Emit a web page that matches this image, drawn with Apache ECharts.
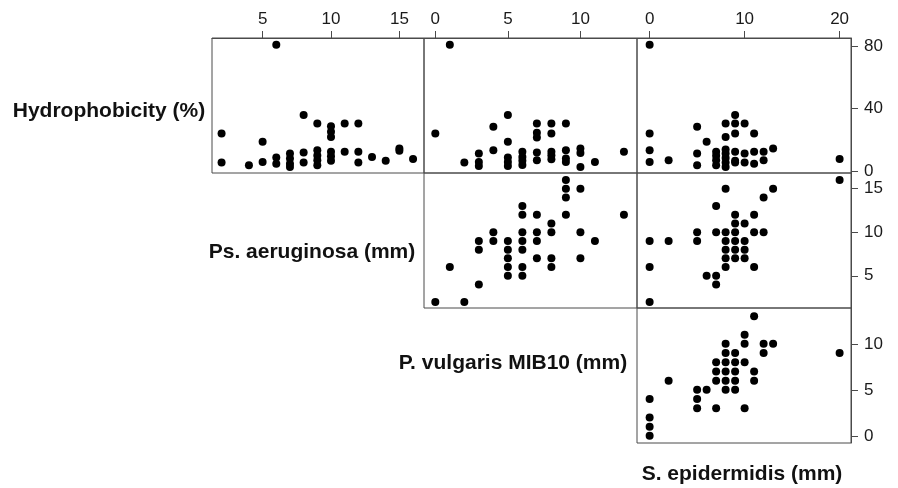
<!DOCTYPE html>
<html>
<head>
<meta charset="utf-8">
<script src="https://cdn.jsdelivr.net/npm/echarts@6/dist/echarts.min.js"></script>
<style>
  html, body { margin: 0; padding: 0; background: #fff; }
  #chart { width: 898px; height: 488px; }
</style>
</head>
<body>
<div id="chart"></div>
<script>
const FONT = 'Liberation Sans, Arial, Helvetica, sans-serif'

// variable names (diagonal of the pairs plot)
const varNames = ['Hydrophobicity (%)', 'Ps. aeruginosa (mm)', 'P. vulgaris MIB10 (mm)', 'S. epidermidis (mm)']

// tick labels per variable
const hydroTicks = [0, 40, 80]
const psTicks = [5, 10, 15]
const pvTicks = [0, 5, 10]
const seTicks = [0, 10, 20]

// panel data: [x, y]
// row 1: y = Hydrophobicity
const psHydro = [[6,81],[2,24],[2,5.4],[4,3.7],[5,18.7],[5,5.8],[6,8.6],[6,4.7],[7,11.2],[7,8],[7,4.7],[7,2.6],
  [8,35.9],[8,11.8],[8,5.4],[9,30.5],[9,13.3],[9,10],[9,6.9],[9,3.7],[10,28.8],[10,25.2],[10,21.9],[10,12.3],
  [10,9.5],[10,6.5],[11,30.5],[11,12.3],[12,30.5],[12,12.3],[12,5.4],[13,9],[14,6.5],[15,14.4],[15,13],[16,7.7]]
const pvHydro = [[1,81],[0,24],[2,5.4],[3,11.2],[3,5.8],[3,3.2],[4,28.4],[4,13.3],[5,35.9],[5,18.7],[5,8.6],
  [5,5.8],[5,3.2],[6,12.3],[6,9],[6,6.5],[6,3.9],[7,30.5],[7,24.5],[7,21.5],[7,11.8],[7,6.9],[8,30.5],[8,24],
  [8,12.3],[8,10.1],[8,7.5],[9,30.5],[9,13.3],[9,8],[9,5.8],[10,14.4],[10,11.6],[10,2.6],[11,5.8],[13,12.3]]
const seHydro = [[0,81],[0,24],[0,13.3],[0,5.8],[2,6.9],[5,28.4],[5,11.2],[5,3.7],[6,18.7],[7,12.3],[7,9.7],
  [7,6.9],[7,3.7],[8,30.5],[8,21.9],[8,13.8],[8,11.2],[8,8.4],[8,5.4],[8,2.6],[9,35.9],[9,30.5],[9,24],[9,12.3],
  [9,6.5],[9,5.4],[10,30.5],[10,11.2],[10,5.4],[11,24],[11,12.3],[11,4.7],[12,12.3],[12,6.9],[13,14.4],[20,7.7]]
// row 2: y = Ps. aeruginosa
const pvPs = [[9,16],[9,15],[9,14],[10,15],[9,12],[13,12],[6,13],[6,12],[7,12],[8,11],[8,10],[4,10],[4,9],
  [3,9],[3,8],[5,9],[5,8],[5,7],[5,6],[5,5],[6,10],[6,9],[6,8],[6,6],[6,5],[7,10],[7,9],[7,7],[8,7],[8,6],
  [10,10],[10,7],[11,9],[1,6],[3,4],[0,2],[2,2]]
const sePs = [[20,16],[8,15],[13,15],[12,14],[7,13],[9,12],[11,12],[10,11],[9,11],[5,10],[5,9],[7,10],[8,10],
  [9,10],[11,10],[12,10],[8,9],[8,8],[8,7],[8,6],[9,9],[9,8],[9,7],[10,9],[10,8],[10,7],[11,6],[0,9],[2,9],
  [0,6],[6,5],[7,5],[7,4],[0,2]]
// row 3: y = P. vulgaris
const sePv = [[11,13],[10,11],[10,10],[12,10],[13,10],[12,9],[20,9],[8,10],[8,9],[9,9],[7,8],[7,7],[7,6],
  [8,8],[8,7],[8,6],[8,5],[9,8],[9,7],[9,6],[9,5],[10,8],[11,7],[11,6],[2,6],[5,5],[6,5],[5,4],[5,3],[7,3],
  [10,3],[0,4],[0,2],[0,1],[0,0]]

// axis ranges (pairs() style padding)
const hydroRange = [-1.3, 85.4]
const psRange = [1.3, 16.8]
const pvRange = [-0.78, 13.9]
const seRange = [-1.33, 21.2]

// grid layout: r1c2, r1c3, r1c4, r2c3, r2c4, r3c4
const colLeft = [212, 424, 637]
const colWidth = [212, 213, 214]
const rowTop = [38, 173, 308]
const rowHeight = 135

const panels = [
  { row: 0, col: 0, data: psHydro, x: psRange, y: hydroRange, xTicks: psTicks },
  { row: 0, col: 1, data: pvHydro, x: pvRange, y: hydroRange, xTicks: pvTicks },
  { row: 0, col: 2, data: seHydro, x: seRange, y: hydroRange, xTicks: seTicks, yTicks: hydroTicks },
  { row: 1, col: 1, data: pvPs, x: pvRange, y: psRange },
  { row: 1, col: 2, data: sePs, x: seRange, y: psRange, yTicks: psTicks },
  { row: 2, col: 2, data: sePv, x: seRange, y: pvRange, yTicks: pvTicks },
]

const LINE = '#4a4a4a'
const TEXT = '#1a1a1a'

const axisBase = (range, ticks, pos) => ({
  type: 'value',
  min: range[0],
  max: range[1],
  position: pos,
  splitLine: { show: false },
  axisLine: { show: !!ticks, onZero: false, lineStyle: { color: LINE, width: 1 } },
  axisTick: ticks
    ? { show: true, customValues: ticks, length: 7, lineStyle: { color: LINE, width: 1 } }
    : { show: false },
  axisLabel: ticks
    ? { show: true, customValues: ticks, color: TEXT, fontSize: 17, fontFamily: FONT,
        margin: pos === 'top' ? 10 : 13 }
    : { show: false },
})

const chart = echarts.init(document.getElementById('chart'), null, { renderer: 'canvas' })

const option = {
  animation: false,
  backgroundColor: '#fff',
  grid: panels.map((p) => ({
    left: colLeft[p.col],
    top: rowTop[p.row],
    width: colWidth[p.col],
    height: rowHeight,
    show: true,
    borderColor: LINE,
    borderWidth: 1,
    containLabel: false,
  })),
  xAxis: panels.map((p, i) => ({ gridIndex: i, ...axisBase(p.x, p.xTicks, 'top') })),
  yAxis: panels.map((p, i) => ({ gridIndex: i, ...axisBase(p.y, p.yTicks, 'right') })),
  series: panels.map((p, i) => ({
    type: 'scatter',
    xAxisIndex: i,
    yAxisIndex: i,
    data: p.data,
    symbol: 'circle',
    symbolSize: 8,
    itemStyle: { color: '#000', opacity: 1 },
  })),
  graphic: [
    { x: 109, y: 111, name: varNames[0] },
    { x: 312, y: 252, name: varNames[1] },
    { x: 513, y: 363, name: varNames[2] },
    { x: 742, y: 474, name: varNames[3] },
  ].map((t) => ({
    type: 'text',
    x: t.x,
    y: t.y,
    style: {
      text: t.name,
      fill: '#111',
      fontSize: 21,
      fontWeight: 'bold',
      fontFamily: FONT,
      align: 'center',
      verticalAlign: 'middle',
    },
  })),
}

chart.setOption(option)
</script>
</body>
</html>
